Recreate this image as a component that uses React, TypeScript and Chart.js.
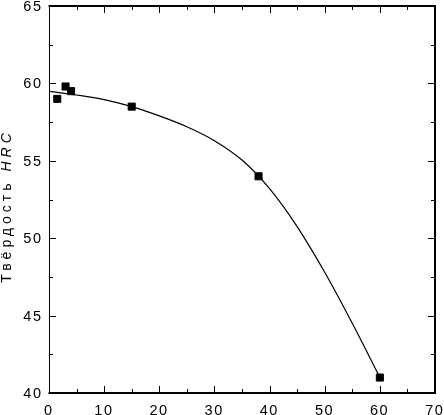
import React, { useEffect, useRef } from 'react';
import { Chart, registerables } from 'chart.js';

Chart.register(...registerables);

// Measured points (hardness vs. x)
const measuredX = [1.5, 3, 4, 15, 38, 60];
const measuredY = [59.0, 59.8, 59.5, 58.5, 54.0, 41.0];

// Smooth fitted curve
const fitX = [0.2, 5, 10, 15, 20, 25, 30, 35, 40, 45, 50, 55, 60];
const fitY = [59.48, 59.25, 58.95, 58.5, 57.9, 57.2, 56.3, 55.05, 53.2, 50.75, 47.8, 44.5, 41.0];

const xTickValues = [0, 10, 20, 30, 40, 50, 60, 70];
const yTickValues = [40, 45, 50, 55, 60, 65];
const xMinorValues = [5, 15, 25, 35, 45, 55, 65];
const yMinorValues = [42.5, 47.5, 52.5, 57.5, 62.5];

const yTitleNormal = 'Твёрдость ';
const yTitleItalic = 'HRC';

const FONT = '"Liberation Sans", Arial, sans-serif';
const LS_TICK = 1.5;
const LS_TITLE = 4;

const framePlugin = {
  id: 'framePlugin',
  afterDraw(chart: any) {
    const ctx = chart.ctx as CanvasRenderingContext2D;
    const { left, right, top, bottom } = chart.chartArea;
    const xs = chart.scales.x;
    const ys = chart.scales.y;
    ctx.save();
    ctx.strokeStyle = '#000';
    ctx.lineCap = 'butt';
    // frame
    ctx.lineWidth = 2;
    ctx.beginPath();
    ctx.moveTo(left - 0.5, top);
    ctx.lineTo(right + 1, top);
    ctx.moveTo(left - 0.5, bottom);
    ctx.lineTo(right + 1, bottom);
    ctx.moveTo(right, top);
    ctx.lineTo(right, bottom);
    ctx.stroke();
    ctx.lineWidth = 1;
    ctx.beginPath();
    ctx.moveTo(left + 0.5, top);
    ctx.lineTo(left + 0.5, bottom);
    ctx.stroke();
    // ticks
    const MAJ = 7;
    const MIN = 4;
    ctx.lineWidth = 1;
    ctx.beginPath();
    const xt = (v: number, len: number) => {
      const px = Math.round(xs.getPixelForValue(v)) + 0.5;
      ctx.moveTo(px, bottom);
      ctx.lineTo(px, bottom - len);
      ctx.moveTo(px, top);
      ctx.lineTo(px, top + len);
    };
    const yt = (v: number, len: number) => {
      const py = Math.round(ys.getPixelForValue(v)) + 0.5;
      ctx.moveTo(left, py);
      ctx.lineTo(left + len, py);
      ctx.moveTo(right, py);
      ctx.lineTo(right - len, py);
    };
    xTickValues.forEach((v) => xt(v, MAJ));
    xMinorValues.forEach((v) => xt(v, MIN));
    yTickValues.forEach((v) => yt(v, MAJ));
    yMinorValues.forEach((v) => yt(v, MIN));
    ctx.stroke();

    // tick labels
    ctx.fillStyle = '#000';
    ctx.font = `14.5px ${FONT}`;
    (ctx as any).letterSpacing = `${LS_TICK}px`;
    ctx.textAlign = 'left';
    ctx.textBaseline = 'alphabetic';
    xs.ticks.forEach((t: any) => {
      const s = String(t.value);
      const w = ctx.measureText(s).width - LS_TICK;
      const px = xs.getPixelForValue(t.value);
      ctx.fillText(s, px - w / 2 - 1, bottom + 22);
    });
    ys.ticks.forEach((t: any) => {
      const s = String(t.value);
      const w = ctx.measureText(s).width - LS_TICK;
      const py = ys.getPixelForValue(t.value);
      ctx.fillText(s, left - 8 - w, py + 5);
    });

    // y title
    (ctx as any).letterSpacing = `${LS_TITLE}px`;
    ctx.translate(11, 208);
    ctx.rotate(-Math.PI / 2);
    ctx.font = `14px ${FONT}`;
    const w1 = ctx.measureText(yTitleNormal).width;
    ctx.font = `italic 14px ${FONT}`;
    const w2 = ctx.measureText(yTitleItalic).width - LS_TITLE;
    const total = w1 + w2;
    ctx.font = `14px ${FONT}`;
    ctx.fillText(yTitleNormal, -total / 2, 0);
    ctx.font = `italic 14px ${FONT}`;
    ctx.fillText(yTitleItalic, -total / 2 + w1, 0);
    ctx.restore();
  },
};

export default function App() {
  const ref = useRef<HTMLCanvasElement | null>(null);
  useEffect(() => {
    document.body.style.margin = '0';
    const canvas = ref.current;
    if (!canvas) return;
    const chart = new Chart(canvas, {
      type: 'scatter',
      data: {
        datasets: [
          {
            label: 'fit',
            data: fitX.map((x, i) => ({ x, y: fitY[i] })),
            showLine: true,
            borderColor: '#000',
            borderWidth: 1.2,
            pointRadius: 0,
            cubicInterpolationMode: 'monotone',
            fill: false,
          },
          {
            label: 'measured',
            data: measuredX.map((x, i) => ({ x, y: measuredY[i] })),
            showLine: false,
            pointStyle: 'rect',
            pointRadius: 5,
            backgroundColor: '#000',
            borderColor: '#000',
            borderWidth: 1,
          },
        ],
      },
      options: {
        animation: false,
        responsive: false,
        devicePixelRatio: 1,
        layout: { padding: { top: 6, right: 9, left: 0, bottom: 0 } },
        plugins: { legend: { display: false }, tooltip: { enabled: false } },
        scales: {
          x: {
            type: 'linear',
            min: 0,
            max: 70,
            ticks: { stepSize: 10, display: false },
            grid: { display: false, drawTicks: false },
            border: { display: false },
            afterFit: (s: any) => {
              s.height = 22;
              s.paddingLeft = 0;
              s.paddingRight = 0;
            },
          },
          y: {
            type: 'linear',
            min: 40,
            max: 65,
            ticks: { stepSize: 5, display: false },
            grid: { display: false, drawTicks: false },
            border: { display: false },
            afterFit: (s: any) => {
              s.width = 49;
              s.paddingTop = 0;
              s.paddingBottom = 0;
            },
          },
        },
      } as any,
      plugins: [framePlugin],
    });
    return () => chart.destroy();
  }, []);
  return (
    <div style={{ width: 444, height: 415, background: '#fff' }}>
      <canvas ref={ref} width={444} height={415} />
    </div>
  );
}
